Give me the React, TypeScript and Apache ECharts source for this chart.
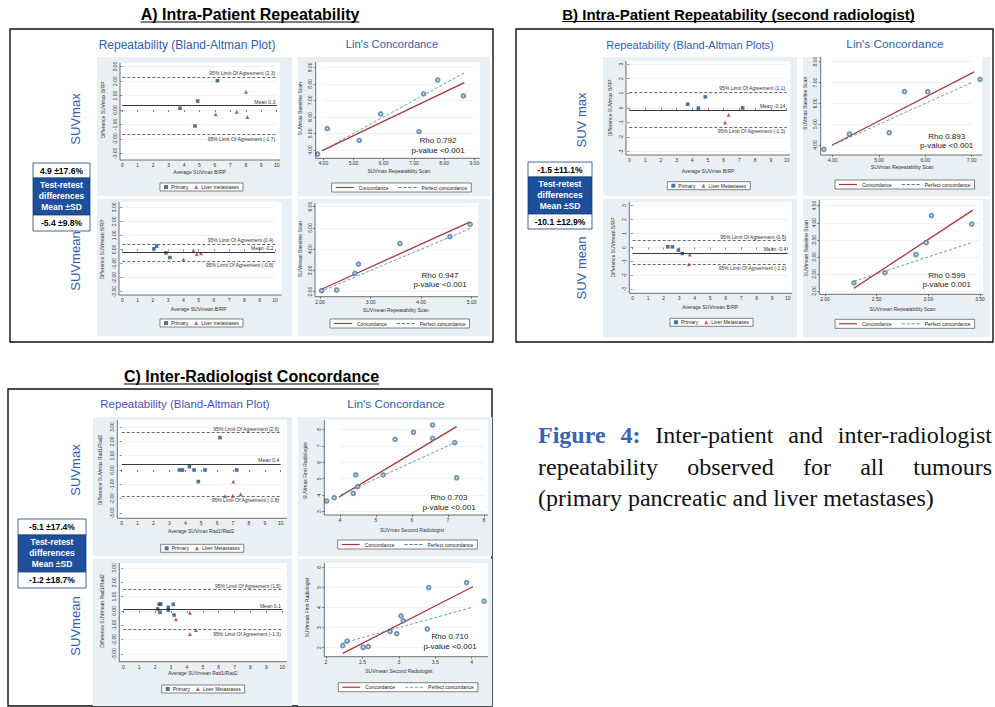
import React, { useEffect, useRef } from 'react';
import * as echarts from 'echarts';

// ================= DATA =================
// ---- A) Intra-patient repeatability ----
const A_MAX_PRIMARY = [[3.74, 0.12], [4.88, 0.62], [4.71, -1.11], [6.16, 2.03]];
const A_MAX_LIVER = [[6.05, -0.30], [7.41, -0.12], [8.01, 1.27], [8.10, -0.48]];
const A_MAX_LIMITS = [2.3, 0.3, -1.7];
const A_MAX_LIN = [[3.81, 3.76], [4.13, 5.29], [5.19, 4.58], [5.90, 6.18], [7.17, 5.11], [7.32, 7.39], [7.79, 8.23], [8.64, 7.27]];
const A_MAX_CONC = [[3.78, 3.80], [8.67, 8.07]];
const A_MAX_PERFECT = [[3.78, 3.78], [8.67, 8.67]];
const A_MAX_RHO = ['Rho 0.792', 'p-value <0.001'];

const A_MEAN_PRIMARY = [[2.07, 0.05], [2.25, 0.24], [2.86, -0.24], [3.12, -0.57]];
const A_MEAN_LIVER = [[4.0, -0.71], [4.65, -0.07], [4.87, -0.33], [5.15, -0.26]];
const A_MEAN_LIMITS = [0.4, -0.2, -0.8];
const A_MEAN_LIN = [[2.03, 2.05], [2.33, 2.08], [2.69, 2.86], [2.76, 3.30], [3.58, 4.27], [4.57, 4.59], [4.97, 5.17]];
const A_MEAN_CONC = [[2.0, 2.08], [4.97, 5.29]];
const A_MEAN_PERFECT = [[2.0, 2.0], [4.97, 4.97]];
const A_MEAN_RHO = ['Rho 0.947', 'p-value <0.001'];
const A_STATS = ['4.9 \u00b117.6%', '-5.4 \u00b19.8%'];

// ---- B) Intra-patient repeatability (second radiologist) ----
const B_MAX_PRIMARY = [[3.71, 0.25], [4.39, -0.02], [4.83, 0.75], [7.20, 0.0]];
const B_MAX_LIVER = [[6.08, -1.0], [6.31, -0.48]];
const B_MAX_LIMITS = [1.1, -0.14, -1.3];
const B_MAX_LIN = [[3.81, 3.79], [4.36, 4.53], [5.22, 4.59], [5.55, 6.56], [6.05, 6.56], [7.18, 7.15]];
const B_MAX_CONC = [[3.78, 3.76], [7.18, 7.65]];
const B_MAX_PERFECT = [[3.78, 3.78], [7.18, 7.18]];
const B_MAX_RHO = ['Rho 0.893', 'p-value <0.001'];

const B_MEAN_PRIMARY = [[2.26, 0.05], [2.56, 0.05], [2.95, -0.19], [3.2, -0.43]];
const B_MEAN_LIVER = [[3.68, -0.5], [3.63, -1.2]];
const B_MEAN_LIMITS = [0.5, -0.4, -1.2];
const B_MEAN_LIN = [[2.28, 2.24], [2.58, 2.54], [2.88, 3.07], [2.98, 3.42], [3.03, 4.21], [3.42, 3.96]];
const B_MEAN_CONC = [[2.28, 2.08], [3.43, 4.37]];
const B_MEAN_PERFECT = [[2.28, 2.28], [3.43, 3.43]];
const B_MEAN_RHO = ['Rho 0.599', 'p-value 0.001'];
const B_STATS = ['-1.5 \u00b111.1%', '-10.1 \u00b112.9%'];

// ---- C) Inter-radiologist concordance ----
const C_MAX_PRIMARY = [[3.63, 0], [3.82, 0], [4.26, 0.23], [4.55, 0], [5.24, 0], [4.82, -0.81], [6.18, 2.26], [7.23, 0]];
const C_MAX_LIVER = [[7.02, -0.81], [6.5, -1.81], [6.98, -1.79], [7.48, -1.7]];
const C_MAX_LIMITS = [2.6, 0.4, -1.8];
const C_MAX_LIN = [[3.63, 3.65], [3.84, 3.85], [4.37, 4.11], [4.44, 5.23], [4.49, 4.52], [5.2, 5.23], [5.53, 7.39], [6.04, 7.82], [6.57, 8.26], [6.57, 7.45], [7.19, 7.19], [7.24, 5.06]];
const C_MAX_CONC = [[3.63, 3.45], [7.24, 8.16]];
const C_MAX_PERFECT = [[3.63, 3.63], [7.24, 7.24]];
const C_MAX_RHO = ['Rho 0.703', 'p-value <0.001'];

const C_MEAN_PRIMARY = [[2.16, 0.14], [2.26, 0.47], [2.35, 0.49], [2.31, -0.09], [2.83, 0.26], [2.83, 0.07], [3.14, 0.47], [3.19, -0.28]];
const C_MEAN_LIVER = [[3.31, -0.58], [4.19, -0.12], [4.19, -1.6], [4.57, -1.33]];
const C_MEAN_LIMITS = [1.5, 0.1, -1.3];
const C_MEAN_LIN = [[2.23, 2.10], [2.29, 2.33], [2.51, 2.02], [2.58, 2.05], [2.88, 2.80], [2.97, 2.70], [3.03, 3.58], [3.06, 3.34], [3.39, 2.93], [3.41, 4.99], [3.93, 5.24], [4.17, 4.32]];
const C_MEAN_CONC = [[2.23, 1.72], [4.17, 5.32]];
const C_MEAN_PERFECT = [[2.23, 2.23], [4.17, 4.17]];
const C_MEAN_RHO = ['Rho 0.710', 'p-value <0.001'];
const C_STATS = ['-5.1 \u00b117.4%', '-1.2 \u00b118.7%'];

// axis ranges [min, max, interval]
const BA_X = [0, 10, 1];
const BA_Y = [-3, 3, 1];

const CAPTION_LINES = [
  ['Figure', '4:', 'Inter-patient', 'and', 'inter-radiologist'],
  ['repeatability', 'observed', 'for', 'all', 'tumours'],
  ['(primary', 'pancreatic', 'and', 'liver', 'metastases)'],
];

// ================= LAYOUT / STYLE =================
const SANS = 'Liberation Sans, Arial, Helvetica, sans-serif';
const SERIF = 'Liberation Serif';
const PRIMARY_COLOR = '#1f4f88';
const LIVER_COLOR = '#a8383e';
const LIN_PT = '#4f7aa6';
const CONC_COLOR = '#a8363c';
const PERF_COLOR = '#3f8c86';
const PANEL_BG = '#e9eff3';
const HEAD_BLUE = '#2f5fae';
const HEAD_C = '#4a53b3';
const DASH_ICON = 'path://M0 0H4V1H0Z M6 0H10V1H6Z M12 0H16V1H12Z M18 0H22V1H18Z';

const fix2 = (v: number) => v.toFixed(2);
const int = (v: number) => String(Math.round(v));
const plain = (v: number) => String(v);

type Sub = {
  kind: 'ba' | 'lin';
  g: number[]; p: number[];
  x: number[]; y: number[];
  xf: (v: number) => string; yf: (v: number) => string;
  xName: string; yName: string; xGap: number; yGap: number;
  leg: number[];
  primary?: number[][]; liver?: number[][]; limits?: number[]; liverName?: string;
  pts?: number[][]; conc?: number[][]; perf?: number[][]; rho?: string[]; rhoPos?: number[];
};

const SUBS: Sub[] = [
  // A
  { kind: 'ba', g: [122.3, 66.7, 276.7, 153.3], p: [120, 63, 280, 160], x: BA_X, y: BA_Y, xf: int, yf: fix2,
    xName: 'Average SUVmax B/RP', yName: 'Difference SUVmax B/RP', xGap: 9, yGap: 15, leg: [160, 183],
    primary: A_MAX_PRIMARY, liver: A_MAX_LIVER, limits: A_MAX_LIMITS, liverName: 'Liver metastases' },
  { kind: 'lin', g: [323.3, 67.3, 474.3, 150], p: [315.7, 62, 480, 158.3], x: [4, 9, 1], y: [4, 9, 1], xf: fix2, yf: fix2,
    xName: 'SUVmax Repeatability Scan', yName: 'SUVmax Baseline Scan', xGap: 10.5, yGap: 13, leg: [331.7, 183],
    pts: A_MAX_LIN, conc: A_MAX_CONC, perf: A_MAX_PERFECT, rho: A_MAX_RHO, rhoPos: [438, 140.5] },
  { kind: 'ba', g: [122.3, 207.3, 275, 291.7], p: [119, 201.7, 281.7, 295], x: BA_X, y: BA_Y, xf: int, yf: fix2,
    xName: 'Average SUVmean B/RP', yName: 'Difference SUVmean B/RP', xGap: 11.5, yGap: 14.5, leg: [160, 319],
    primary: A_MEAN_PRIMARY, liver: A_MEAN_LIVER, limits: A_MEAN_LIMITS, liverName: 'Liver metastases' },
  { kind: 'lin', g: [320, 206.7, 471.7, 291.7], p: [315, 203, 478, 296.7], x: [2, 5, 1], y: [2, 6, 1], xf: fix2, yf: fix2,
    xName: 'SUVmean Repeatability Scan', yName: 'SUVmean Baseline Scan', xGap: 10.5, yGap: 12.5, leg: [330, 319],
    pts: A_MEAN_LIN, conc: A_MEAN_CONC, perf: A_MEAN_PERFECT, rho: A_MEAN_RHO, rhoPos: [440, 275] },
  // B
  { kind: 'ba', g: [629.3, 64, 786.7, 151.7], p: [626, 61, 790, 155], x: BA_X, y: BA_Y, xf: int, yf: int,
    xName: 'Average SUVmax B/RP', yName: 'Difference SUVmax B/RP', xGap: 13, yGap: 13.5, leg: [667.3, 181.7],
    primary: B_MAX_PRIMARY, liver: B_MAX_LIVER, limits: B_MAX_LIMITS, liverName: 'Liver Metastases' },
  { kind: 'lin', g: [832.7, 61.7, 971.7, 145], p: [820.7, 57, 982, 155], x: [4, 7, 1], y: [4, 8, 1], xf: fix2, yf: fix2,
    xName: 'SUVmax Repeatability Scan', yName: 'SUVmax Baseline Scan', xGap: 9.5, yGap: 13, leg: [835, 180],
    pts: B_MAX_LIN, conc: B_MAX_CONC, perf: B_MAX_PERFECT, rho: B_MAX_RHO, rhoPos: [946.7, 136] },
  { kind: 'ba', g: [632.7, 205.7, 787.7, 289.3], p: [629.3, 202, 792, 293.3], x: BA_X, y: BA_Y, xf: int, yf: int,
    xName: 'Average SUVmean B/RP', yName: 'Difference SUVmean B/RP', xGap: 11.5, yGap: 13.5, leg: [670, 318.3],
    primary: B_MEAN_PRIMARY, liver: B_MEAN_LIVER, limits: B_MEAN_LIMITS, liverName: 'Liver Metastases' },
  { kind: 'lin', g: [825, 205.7, 980, 291], p: [819.3, 200, 983, 294.3], x: [2, 3.5, 0.5], y: [2, 4.5, 0.5], xf: fix2, yf: fix2,
    xName: 'SUVmean Repeatability Scan', yName: 'SUVmean Baseline Scan', xGap: 12, yGap: 10.8, leg: [835, 319.3],
    pts: B_MEAN_LIN, conc: B_MEAN_CONC, perf: B_MEAN_PERFECT, rho: B_MEAN_RHO, rhoPos: [946.7, 275] },
  // C
  { kind: 'ba', g: [121.7, 427, 280.7, 513], p: [117.3, 420, 287, 518.3], x: BA_X, y: BA_Y, xf: int, yf: fix2,
    xName: 'Average SUVmax Rad1/Rad2', yName: 'Difference SUVmax Rad1/Rad2', xGap: 10.5, yGap: 14.5, leg: [160.7, 544.3],
    primary: C_MAX_PRIMARY, liver: C_MAX_LIVER, limits: C_MAX_LIMITS, liverName: 'Liver Metastases' },
  { kind: 'lin', g: [340, 429.3, 484, 511.7], p: [324.3, 420, 488, 515], x: [4, 8, 1], y: [3, 8, 1], xf: int, yf: int,
    xName: 'SUVmax Second Radiologist', yName: 'SUVmax First Radiologist', xGap: 12, yGap: 16.5, leg: [337.7, 540],
    pts: C_MAX_LIN, conc: C_MAX_CONC, perf: C_MAX_PERFECT, rho: C_MAX_RHO, rhoPos: [449, 497.7] },
  { kind: 'ba', g: [123.3, 568, 282.3, 654], p: [119.3, 563, 287, 661.7], x: BA_X, y: BA_Y, xf: int, yf: fix2,
    xName: 'Average SUVmean Rad1/Rad2', yName: 'Difference SUVmean Rad1/Rad2', xGap: 8, yGap: 15, leg: [161.7, 685],
    primary: C_MEAN_PRIMARY, liver: C_MEAN_LIVER, limits: C_MEAN_LIMITS, liverName: 'Liver Metastases' },
  { kind: 'lin', g: [326, 567.3, 471.7, 647.7], p: [324.3, 563, 488, 656.7], x: [2, 4, 0.5], y: [2, 6, 1], xf: plain, yf: int,
    xName: 'SUVmean Second Radiologist', yName: 'SUVmean First Radiologist', xGap: 12, yGap: 15, leg: [338.3, 682.7],
    pts: C_MEAN_LIN, conc: C_MEAN_CONC, perf: C_MEAN_PERFECT, rho: C_MEAN_RHO, rhoPos: [450, 636.7] },
];

const PANELS = [
  [97, 57, 292, 196], [298, 57, 490, 196], [97, 199, 292, 336], [298, 199, 490, 336],
  [603, 57, 797, 196], [803, 57, 990, 196], [603, 199, 797, 337], [803, 199, 990, 337],
  [93, 417, 292, 556], [298, 417, 492, 556], [93, 559, 292, 706], [298, 559, 492, 706],
];

let ctx: CanvasRenderingContext2D | null = null;
function measure(text: string, font: string) {
  if (!ctx) ctx = document.createElement('canvas').getContext('2d');
  ctx!.font = font;
  return ctx!.measureText(text).width;
}

function T(text: string, x: number, y: number, o: any = {}) {
  return {
    type: 'text', x, y, z: 50, silent: true, rotation: o.rot || 0,
    style: {
      text, fill: o.fill || '#000', fontSize: o.size || 10, fontFamily: o.family || SANS,
      fontWeight: o.weight || 'normal',
      textAlign: o.align || 'center', align: o.align || 'center',
      textVerticalAlign: o.valign || 'middle', verticalAlign: o.valign || 'middle',
    },
  };
}
function R(x0: number, y0: number, x1: number, y1: number, fill: string, stroke?: string, lw = 1, z = -5) {
  return { type: 'rect', z, silent: true, shape: { x: x0, y: y0, width: x1 - x0, height: y1 - y0 },
    style: { fill, stroke: stroke || null, lineWidth: stroke ? lw : 0 } };
}
function L(x1: number, y1: number, x2: number, y2: number, stroke: string, lw = 1, z = 5) {
  return { type: 'line', z, silent: true, shape: { x1, y1, x2, y2 }, style: { stroke, lineWidth: lw } };
}

function title(text: string, cx: number, cy: number, size: number) {
  const w = measure(text, `bold ${size}px Liberation Sans`);
  return [T(text, cx, cy, { size, weight: 'bold' }), L(cx - w / 2, cy + size * 0.5, cx + w / 2, cy + size * 0.5, '#000', 1.1)];
}

function statBox(x0: number, x1: number, stats: string[], ys: number[]) {
  const [y0, y1, y2, y3] = ys;
  const cx = (x0 + x1) / 2;
  return [
    R(x0, y0, x1, y1, '#fff', '#1b3f7a', 0.8, 1),
    R(x0, y1, x1, y2, '#1d4f9c', '#1b3f7a', 0.8, 1),
    R(x0, y2, x1, y3, '#fff', '#1b3f7a', 0.8, 1),
    T(stats[0], cx, (y0 + y1) / 2, { size: 8.5, weight: 'bold' }),
    T('Test-retest', cx, y1 + 6.5, { size: 8.5, weight: 'bold', fill: '#fff' }),
    T('differences', cx, y1 + 17.5, { size: 8.5, weight: 'bold', fill: '#fff' }),
    T('Mean \u00b1SD', cx, y1 + 28.5, { size: 8.5, weight: 'bold', fill: '#fff' }),
    T(stats[1], cx, (y2 + y3) / 2, { size: 8.5, weight: 'bold' }),
  ];
}

function caption() {
  const out: any[] = [];
  const size = 24, x0 = 538, right = 992;
  const ys = [435, 467, 498];
  CAPTION_LINES.forEach((words, li) => {
    const fonts = words.map((_, wi) => (li === 0 && wi < 2 ? `bold ${size}px ${SERIF}` : `${size}px ${SERIF}`));
    const widths = words.map((w, wi) => measure(w, fonts[wi]));
    const total = widths.reduce((a, b) => a + b, 0);
    const gap = li < 2 ? (right - x0 - total) / (words.length - 1) : measure(' ', `${size}px ${SERIF}`);
    let x = x0;
    words.forEach((w, wi) => {
      const bold = li === 0 && wi < 2;
      out.push(T(w, x, ys[li], { size, family: SERIF, align: 'left', weight: bold ? 'bold' : 'normal',
        fill: bold ? '#3565b0' : '#111' }));
      x += widths[wi] + gap;
    });
  });
  return out;
}

function buildOption() {
  const grid: any[] = [], xAxis: any[] = [], yAxis: any[] = [], series: any[] = [], legend: any[] = [];
  const graphic: any[] = [];

  graphic.push(R(10, 29, 493, 342, '#fff', '#111', 1.4, -20));
  graphic.push(R(516, 29, 993, 342, '#fff', '#111', 1.4, -20));
  graphic.push(R(8, 389, 492, 706, '#fff', '#111', 1.4, -20));
  PANELS.forEach(p => graphic.push(R(p[0], p[1], p[2], p[3], PANEL_BG, undefined, 0, -15)));

  graphic.push(...title('A) Intra-Patient Repeatability', 250, 14, 16));
  graphic.push(...title('B) Intra-Patient Repeatability (second radiologist)', 738.5, 14, 15));
  graphic.push(...title('C) Inter-Radiologist Concordance', 251.5, 376, 16));

  graphic.push(T('Repeatability (Bland-Altman Plot)', 187, 45, { size: 12, fill: HEAD_BLUE }));
  graphic.push(T("Lin's Concordance", 392, 44, { size: 11.2, fill: HEAD_BLUE }));
  graphic.push(T('Repeatability (Bland-Altman Plots)', 690, 45, { size: 11, fill: HEAD_BLUE }));
  graphic.push(T("Lin's Concordance", 895, 44, { size: 11.8, fill: HEAD_BLUE }));
  graphic.push(T('Repeatability (Bland-Altman Plot)', 185, 404, { size: 11.5, fill: HEAD_C }));
  graphic.push(T("Lin's Concordance", 396, 404, { size: 11.8, fill: HEAD_BLUE }));

  const rot = Math.PI / 2;
  graphic.push(T('SUVmax', 75, 119, { size: 13, fill: HEAD_BLUE, rot }));
  graphic.push(T('SUVmean', 75, 261, { size: 13, fill: HEAD_BLUE, rot }));
  graphic.push(T('SUV max', 581, 120, { size: 13, fill: HEAD_BLUE, rot }));
  graphic.push(T('SUV mean', 581, 268, { size: 13, fill: HEAD_BLUE, rot }));
  graphic.push(T('SUVmax', 75, 470, { size: 13, fill: HEAD_BLUE, rot }));
  graphic.push(T('SUVmean', 75, 626, { size: 13, fill: HEAD_BLUE, rot }));

  graphic.push(...statBox(33, 90, A_STATS, [163, 178, 215, 231]));
  graphic.push(...statBox(528, 592, B_STATS, [162, 177, 214, 229]));
  graphic.push(...statBox(18, 86, C_STATS, [519, 535, 572, 588]));

  graphic.push(...caption());

  SUBS.forEach((s, i) => {
    const [gx0, gy0, gx1, gy1] = s.g;
    const [px0, py0, px1, py1] = s.p;
    graphic.push(R(px0, py0, px1, py1, '#fff', undefined, 0, -10));
    graphic.push(L(px0, py0, px0, py1, '#333', 0.7, 5));
    graphic.push(L(px0, py1, px1, py1, '#333', 0.7, 5));
    grid.push({ left: gx0, top: gy0, width: gx1 - gx0, height: gy1 - gy0, containLabel: false });
    const axisCommon = {
      type: 'value', gridIndex: i, nameLocation: 'middle',
      axisLine: { show: false },
      axisTick: { show: true, length: 2, lineStyle: { color: '#333', width: 0.6 } },
      nameTextStyle: { fontSize: 5, color: '#333', fontFamily: SANS },
    };
    xAxis.push({ ...axisCommon, min: s.x[0], max: s.x[1], interval: s.x[2], offset: py1 - gy1,
      name: s.xName, nameGap: s.xGap,
      axisLabel: { fontSize: 5, color: '#333', margin: 2.5, formatter: s.xf, fontFamily: SANS },
      splitLine: { show: false } });
    yAxis.push({ ...axisCommon, min: s.y[0], max: s.y[1], interval: s.y[2], offset: gx0 - px0,
      name: s.yName, nameGap: s.yGap, nameRotate: 90,
      axisLabel: { fontSize: 5, color: '#333', margin: 3, rotate: 90, formatter: s.yf, fontFamily: SANS },
      splitLine: { show: true, lineStyle: { color: '#e6ebee', width: 0.6 } } });

    if (s.kind === 'ba') {
      const lim = s.limits!;
      const dashed = { type: [3, 2], color: '#444', width: 0.8 };
      const lab = (t: string, pos: string) => ({ show: true, position: pos, formatter: t, fontSize: 5,
        color: '#333', distance: 1.5, fontFamily: SANS });
      series.push({ type: 'scatter', name: 'Primary', xAxisIndex: i, yAxisIndex: i, data: s.primary,
        symbol: 'rect', symbolSize: 3.6, itemStyle: { color: PRIMARY_COLOR }, clip: false, z: 3,
        markLine: { silent: true, symbol: ['none', 'none'], animation: false,
          data: [
            { yAxis: lim[0], lineStyle: dashed, label: lab(`95% Limit Of Agreement (${lim[0]})`, 'insideEndTop') },
            { yAxis: lim[1], lineStyle: { type: 'solid', color: '#222', width: 0.9 }, label: lab(`Mean ${lim[1]}`, 'insideEndTop') },
            { yAxis: lim[2], lineStyle: dashed, label: lab(`95% Limit Of Agreement (${lim[2]})`, 'insideEndBottom') },
          ] } });
      series.push({ type: 'scatter', name: s.liverName, xAxisIndex: i, yAxisIndex: i, data: s.liver,
        symbol: 'triangle', symbolSize: 4, itemStyle: { color: LIVER_COLOR }, clip: false, z: 3 });
      legend.push({ data: ['Primary', s.liverName], left: s.leg[0], top: s.leg[1], itemWidth: 4, itemHeight: 4,
        itemGap: 6, padding: [1.5, 4], backgroundColor: '#fff', borderColor: '#333', borderWidth: 0.6,
        selectedMode: false, textStyle: { fontSize: 5, color: '#222', fontFamily: SANS, padding: [0, 0, 0, -2] } });
    } else {
      series.push({ type: 'scatter', name: 'obs' + i, xAxisIndex: i, yAxisIndex: i, data: s.pts,
        symbol: 'emptyCircle', symbolSize: 3.6, itemStyle: { color: LIN_PT, borderWidth: 0.7 }, clip: false, z: 3 });
      series.push({ type: 'line', name: 'Concordance', xAxisIndex: i, yAxisIndex: i, data: s.conc,
        symbol: 'none', itemStyle: { color: CONC_COLOR }, lineStyle: { color: CONC_COLOR, width: 1.3 }, clip: false, z: 2 });
      series.push({ type: 'line', name: 'Perfect concordance', xAxisIndex: i, yAxisIndex: i, data: s.perf,
        symbol: 'none', itemStyle: { color: PERF_COLOR }, lineStyle: { color: PERF_COLOR, width: 0.8, type: [3, 2] }, clip: false, z: 2 });
      legend.push({ data: [{ name: 'Concordance', icon: 'rect' }, { name: 'Perfect concordance', icon: DASH_ICON }],
        left: s.leg[0], top: s.leg[1], itemWidth: 18, itemHeight: 1.2, itemGap: 10, padding: [2, 4],
        backgroundColor: '#fff', borderColor: '#333', borderWidth: 0.6, selectedMode: false,
        textStyle: { fontSize: 5, color: '#222', fontFamily: SANS } });
      graphic.push(T(s.rho![0], s.rhoPos![0], s.rhoPos![1], { size: 8, fill: '#222' }));
      graphic.push(T(s.rho![1], s.rhoPos![0], s.rhoPos![1] + 9.5, { size: 8, fill: '#222' }));
    }
  });

  return { animation: false, backgroundColor: '#fff', grid, xAxis, yAxis, series, legend, graphic };
}

export default function App() {
  const ref = useRef<HTMLDivElement>(null);
  useEffect(() => {
    const chart = echarts.init(ref.current!, null, { renderer: 'svg', width: 995, height: 707 });
    chart.setOption(buildOption() as any);
    return () => chart.dispose();
  }, []);
  return <div ref={ref} style={{ position: 'fixed', left: 0, top: 0, width: 995, height: 707, background: '#fff' }} />;
}
